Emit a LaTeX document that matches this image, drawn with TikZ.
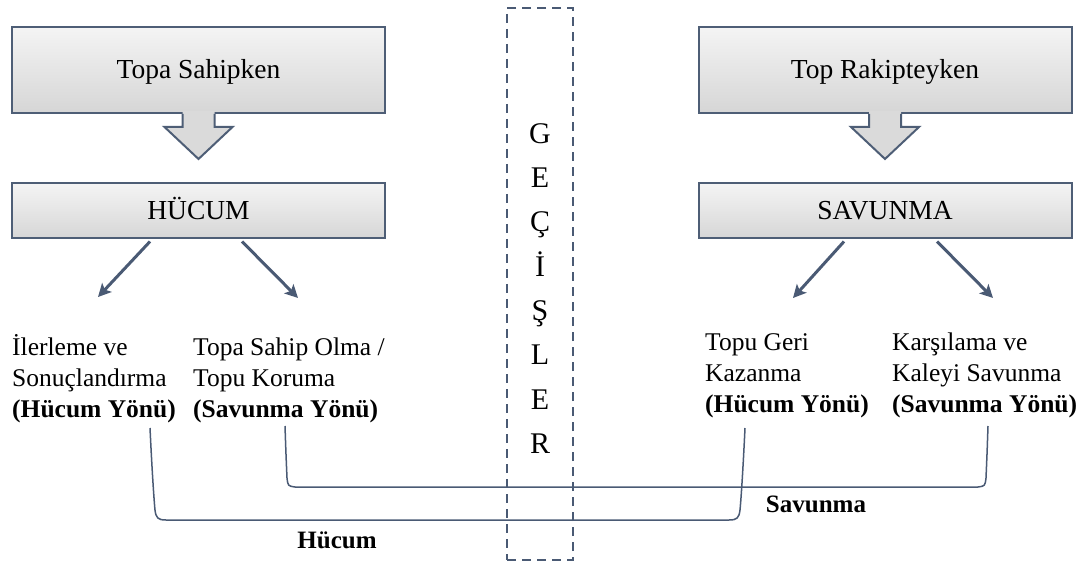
\documentclass[tikz,border=0pt]{standalone}
\usepackage{fontspec}
\setmainfont{Liberation Serif}
\usetikzlibrary{arrows.meta,calc}

\definecolor{edgeblue}{HTML}{4E5E76}
\definecolor{linkblue}{HTML}{4A5A74}
\definecolor{panelhi}{HTML}{F4F4F4}
\definecolor{panello}{HTML}{D6D6D6}

\tikzset{
  % hollow block arrow hanging under a panel
  downarrow/.pic={
    \fill[panello!90!white] (-16,-3) -- (-16,13) -- (-34,13) -- (0,45) -- (34,13) -- (16,13) -- (16,-3) -- cycle;
    \draw[draw=edgeblue, line width=2pt, line join=miter]
      (-16,0) -- (-16,13) -- (-34,13) -- (0,45) -- (34,13) -- (16,13) -- (16,0);
  }
}

\begin{document}
\begin{tikzpicture}[x=1pt,y=-1pt,
  panel/.style={draw=edgeblue, line width=2pt, top color=panelhi, bottom color=panello,
    inner sep=0pt, text height=18pt, text depth=0pt, font=\fontsize{27.5}{33}\selectfont},
  headpanel/.style={panel, minimum width=373pt, minimum height=86pt},
  phasepanel/.style={panel, minimum width=373pt, minimum height=55pt},
  splitarrow/.style={draw=linkblue, line width=3pt, -{Stealth[length=13pt,width=13pt,inset=3pt]}},
  phasetext/.style={align=left, anchor=base west, inner sep=0pt, font=\fontsize{25.5}{31}\selectfont},
  bracket/.style={draw=linkblue, line width=1.5pt},
  bracketlabel/.style={anchor=base, inner sep=0pt, font=\fontsize{25}{30}\selectfont\bfseries},
  transit/.style={draw=linkblue, line width=2pt, dash pattern=on 9pt off 6pt,
    minimum width=66pt, minimum height=552pt, inner sep=0pt, align=center,
    font=\fontsize{30}{44.3}\selectfont}
]
\useasboundingbox (0,0) rectangle (1085,564);

% possession panels and phases
\node[headpanel]  (sahip)   at (198.5,70)  {Topa Sahipken};
\node[phasepanel] (hucum)   at (198.5,211) {HÜCUM};
\node[headpanel]  (rakip)   at (885,70)    {Top Rakipteyken};
\node[phasepanel] (savunma) at (885,211)   {SAVUNMA};

\pic at (sahip.south) {downarrow};
\pic at (rakip.south) {downarrow};

% sub-phases (anchored on the baseline of the last line)
\node[phasetext] (ilerleme)  at (12,417)  {İlerleme ve\\Sonuçlandırma\\\textbf{(Hücum Yönü)}};
\node[phasetext] (koruma)    at (193,417) {Topa Sahip Olma /\\Topu Koruma\\\textbf{(Savunma Yönü)}};
\node[phasetext] (kazanma)   at (705,412) {Topu Geri\\Kazanma\\\textbf{(Hücum Yönü)}};
\node[phasetext] (karsilama) at (892,412) {Karşılama ve\\Kaleyi Savunma\\\textbf{(Savunma Yönü)}};

% split arrows
\coordinate (hL) at (98,297);
\coordinate (hR) at (298,298);
\coordinate (sL) at (793,298);
\coordinate (sR) at (993,298);
\draw[splitarrow] ([xshift=-48.5pt,yshift=-2pt]hucum.south) -- (hL);
\draw[splitarrow] ([xshift=43.5pt,yshift=-2pt]hucum.south) -- (hR);
\draw[splitarrow] ([xshift=-41pt,yshift=-2pt]savunma.south) -- (sL);
\draw[splitarrow] ([xshift=52pt,yshift=-2pt]savunma.south) -- (sR);

% brackets grouping the directions
\coordinate (hA) at (150,428);
\coordinate (hB) at (745,428);
\coordinate (sA) at (285,426);
\coordinate (sB) at (988,426);
\draw[bracket] (hA) .. controls (152,470) and (154,500) .. (155,510)
  .. controls (156,518) and (158,520) .. (166,520) -- (729,520)
  .. controls (737,520) and (739,518) .. (740,510)
  .. controls (741,500) and (743,470) .. (hB);
\draw[bracket] (sA) .. controls (286,455) .. (287,478)
  .. controls (288,486) .. (295,487) -- (978,487)
  .. controls (985,486) .. (986,478)
  .. controls (987,455) .. (sB);

\node[bracketlabel] (hucumlbl) at (337,548) {Hücum};
\node[bracketlabel] (savlbl)   at (816,512) {Savunma};

% transitions column
\node[transit] (gecis) at (540,284) {\rule{0pt}{28.5pt}G\\E\\Ç\\İ\\Ş\\L\\E\\R};
\end{tikzpicture}
\end{document}
